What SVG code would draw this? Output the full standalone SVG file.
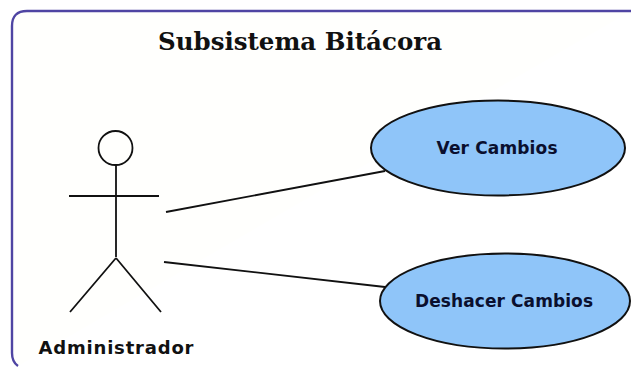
<svg xmlns="http://www.w3.org/2000/svg" width="631" height="367" viewBox="0 0 631 367">
<style>
.ln{stroke:#111;stroke-width:1.8;fill:none}
.uc{fill:#8fc5f9;stroke:#111;stroke-width:2}
.lb{font-family:"DejaVu Sans",Verdana,sans-serif;font-weight:bold;fill:#0a0f2e;text-anchor:middle}
</style>
<rect width="631" height="367" fill="#fff"/>
<g id="boundary"><path d="M631 11H27Q12 11 12 26V353Q12 362 18 366" fill="#fffffd" stroke="#4f45a3" stroke-width="2.400"/></g>
<text id="title" x="158" y="50" font-family="DejaVu Serif,serif" font-weight="bold" font-size="24.500" textLength="284" lengthAdjust="spacing" fill="#111">Subsistema Bitácora</text>
<g id="connectors">
<path class="ln" d="M166 212L385 171"/>
<path class="ln" d="M164 262L385 287"/>
</g>
<g id="actor">
<circle class="ln" cx="115.500" cy="148" r="17"/>
<path class="ln" d="M116 165V257M69 196H159M116 258L70 312M116 258L161 312"/>
<text class="lb" x="116" y="354" font-size="18" textLength="155" lengthAdjust="spacing" style="fill:#111">Administrador</text>
</g>
<g id="ver-cambios">
<ellipse class="uc" cx="498" cy="148" rx="127" ry="47.500"/>
<text class="lb" x="497" y="154" font-size="17" textLength="121" lengthAdjust="spacing">Ver Cambios</text>
</g>
<g id="deshacer-cambios">
<ellipse class="uc" cx="505" cy="301" rx="125" ry="47.500"/>
<text class="lb" x="504" y="307" font-size="17" textLength="178" lengthAdjust="spacing">Deshacer Cambios</text>
</g>
</svg>
